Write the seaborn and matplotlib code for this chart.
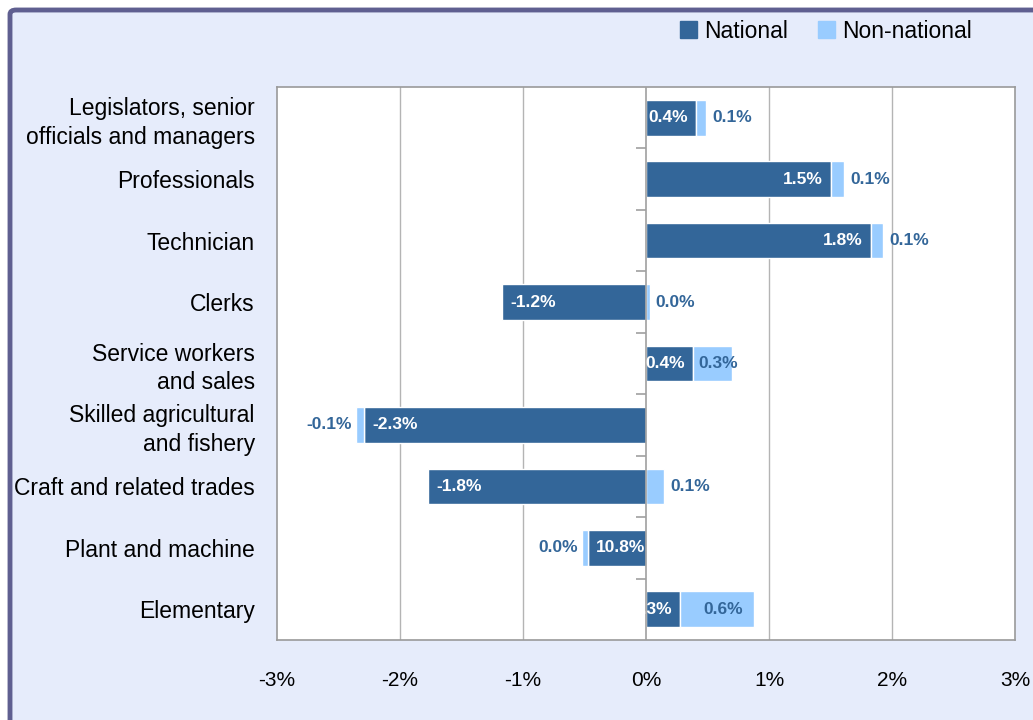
import numpy as np
import matplotlib
matplotlib.use("Agg")
import matplotlib.pyplot as plt
import seaborn as sns
from matplotlib.patches import FancyBboxPatch, Patch

# === Data ===
categories = [
    "Legislators, senior\nofficials and managers",
    "Professionals",
    "Technician",
    "Clerks",
    "Service workers\nand sales",
    "Skilled agricultural\nand fishery",
    "Craft and related trades",
    "Plant and machine",
    "Elementary",
]
national = [0.41, 1.50, 1.83, -1.17, 0.38, -2.29, -1.77, -0.47, 0.28]
non_national = [0.08, 0.11, 0.10, 0.03, 0.32, -0.07, 0.15, -0.05, 0.60]
national_labels = ["0.4%", "1.5%", "1.8%", "-1.2%", "0.4%", "-2.3%", "-1.8%", "10.8%", "0.3%"]
non_national_labels = ["0.1%", "0.1%", "0.1%", "0.0%", "0.3%", "-0.1%", "0.1%", "0.0%", "0.6%"]
x_ticks = [-3, -2, -1, 0, 1, 2, 3]

# === Style ===
c_nat = "#336699"
c_non = "#99CCFF"
bg = "#E6ECFB"
sns.set_style("white")
plt.rcParams["font.family"] = ["Liberation Sans", "DejaVu Sans"]
plt.rcParams["text.color"] = "black"
plt.rcParams["xtick.color"] = "black"
plt.rcParams["ytick.color"] = "black"

fig = plt.figure(figsize=(10.33, 7.2), dpi=100, facecolor="white")
# chart area frame (top/left border visible, rest cropped)
fig.patches.append(FancyBboxPatch((10 / 1033, -0.1), 1.2, 1.1 - 10 / 720,
                                  boxstyle="round,pad=0,rounding_size=0.006",
                                  transform=fig.transFigure, facecolor=bg,
                                  edgecolor="#5F5F90", lw=3.5, zorder=-1))
ax = fig.add_axes([277 / 1033, 1 - 640 / 720, (1015 - 277) / 1033, (640 - 87) / 720])
ax.set_facecolor("white")

df_y = list(range(len(categories)))
sns.barplot(x=national, y=categories, orient="h", color=c_nat, width=0.58,
            saturation=1, ax=ax, zorder=3)

nat = np.array(national)
non = np.array(non_national)
base = np.where(np.sign(nat) == np.sign(non), nat, 0.0)
ax.barh(df_y, non, left=base, height=0.58, color=c_non, zorder=3)

# === data labels ===
pad = 0.065
lbl = dict(fontsize=12.5, fontweight="bold", va="center", zorder=5)
for i in range(len(categories)):
    v = nat[i]
    if v >= 0:
        ax.text(v - pad, i, national_labels[i], ha="right", color="white", **lbl)
    else:
        ax.text(v + pad, i, national_labels[i], ha="left", color="white", **lbl)
    s = non[i]
    end = base[i] + s
    if abs(s) > 0.25:
        ax.text(base[i] + s / 2 + 0.05, i, non_national_labels[i], ha="center", color=c_nat, **lbl)
    elif s >= 0:
        ax.text(end + 0.05, i, non_national_labels[i], ha="left", color=c_nat, **lbl)
    else:
        ax.text(end - 0.03, i, non_national_labels[i], ha="right", color=c_nat, **lbl)

# === axes ===
ax.set_xlim(-3, 3)
ax.set_ylim(len(categories) - 0.5, -0.5)
ax.set_xticks(x_ticks)
ax.set_xticklabels([f"{t}%" for t in x_ticks], fontsize=15)
ax.tick_params(axis="x", length=0, pad=22)
ax.tick_params(axis="y", length=0, pad=16, labelsize=16.5)
for t in ax.get_yticklabels():
    t.set_linespacing(1.3)
ax.set_xlabel("")
ax.set_ylabel("")
for t in x_ticks[1:-1]:
    if t != 0:
        ax.axvline(t, color="#B4B4B4", lw=1, zorder=1)
ax.axvline(0, color="#A0A0A0", lw=1.2, zorder=4)
ax.hlines([i + 0.5 for i in range(len(categories) - 1)], -0.08, 0,
          color="#A0A0A0", lw=1.2, zorder=4)
for sp in ax.spines.values():
    sp.set_color("#9A9A9A")
    sp.set_linewidth(1.2)

# === legend ===
handles = [Patch(color=c_nat, label="National"), Patch(color=c_non, label="Non-national")]
fig.legend(handles=handles, loc="center", bbox_to_anchor=(826 / 1033, 1 - 31 / 720),
           ncol=2, frameon=False, fontsize=16.5, handlelength=0.75, handleheight=0.75,
           handletextpad=0.3, columnspacing=1.3)

fig.savefig("out.png", dpi=100, facecolor=fig.get_facecolor())
